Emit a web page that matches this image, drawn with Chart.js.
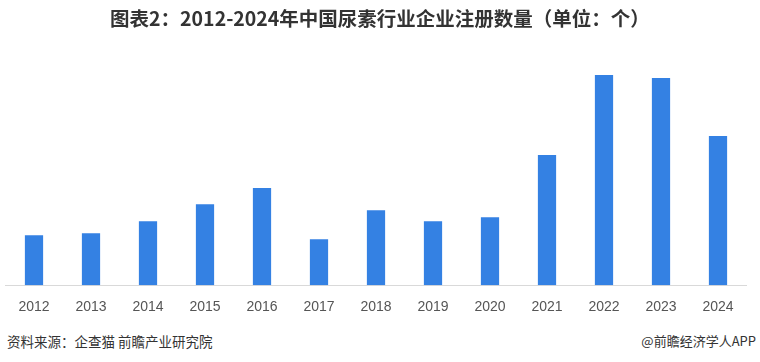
<!DOCTYPE html>
<html lang="zh">
<head>
    <meta charset="utf-8">
    <title>中国尿素行业企业注册数量</title>
    <script src="https://cdn.jsdelivr.net/npm/chart.js@4.4.1/dist/chart.umd.min.js"></script>
    <style>
        body { margin: 0; background: #fff; }
        #wrap { position: relative; width: 760px; height: 362px; overflow: hidden; font-family: "Noto Sans CJK SC", sans-serif; }
        #ttl {
            position: absolute; left: 0; top: 6px; width: 760px; text-align: center;
            font-size: 19.5px; font-weight: bold; color: #333; line-height: 24px;
        }
        #box { position: absolute; left: 0; top: 0; width: 760px; height: 329px; }
        .foot { position: absolute; top: 332px; font-size: 13.5px; color: #333; line-height: 18px; }
        #src { left: 7px; }
        #app { right: 4px; font-size: 13px; }
    </style>
</head>
<body>
<div id="wrap">
    <div id="box"><canvas id="gr"></canvas></div>
    <div id="ttl">图表2：2012-2024年中国尿素行业企业注册数量（单位：个）</div>
    <div class="foot" id="src">资料来源：企查猫 前瞻产业研究院</div>
    <div class="foot" id="app">@前瞻经济学人APP</div>
</div>

<script>
    // 年份（横轴）
    const years = ["2012", "2013", "2014", "2015", "2016", "2017", "2018",
                   "2019", "2020", "2021", "2022", "2023", "2024"];
    // 注册数量（原图无刻度，按柱高估读）
    const counts = [50, 52, 64, 81, 97, 46, 75, 64, 68, 130, 210, 207, 149];

    const ctx = document.getElementById("gr").getContext("2d");
    new Chart(ctx, {
        type: "bar",
        data: {
            labels: years,
            datasets: [{
                label: "企业注册数量",
                data: counts,
                backgroundColor: "#3481e3",
                barPercentage: 0.32,
                categoryPercentage: 1.0
            }]
        },
        options: {
            responsive: true,
            maintainAspectRatio: false,
            animation: false,
            layout: { padding: { left: 5.5, right: 13.5, top: 65, bottom: 7 } },
            plugins: {
                legend: { display: false },
                tooltip: { enabled: false }
            },
            scales: {
                x: {
                    grid: { display: false },
                    border: { display: true, color: "#d9d9d9", width: 1 },
                    ticks: {
                        color: "#555",
                        padding: 6,
                        font: { family: "Liberation Sans", size: 14 }
                    }
                },
                y: {
                    display: false,
                    min: 0,
                    max: 220
                }
            }
        }
    });
</script>
</body>
</html>
